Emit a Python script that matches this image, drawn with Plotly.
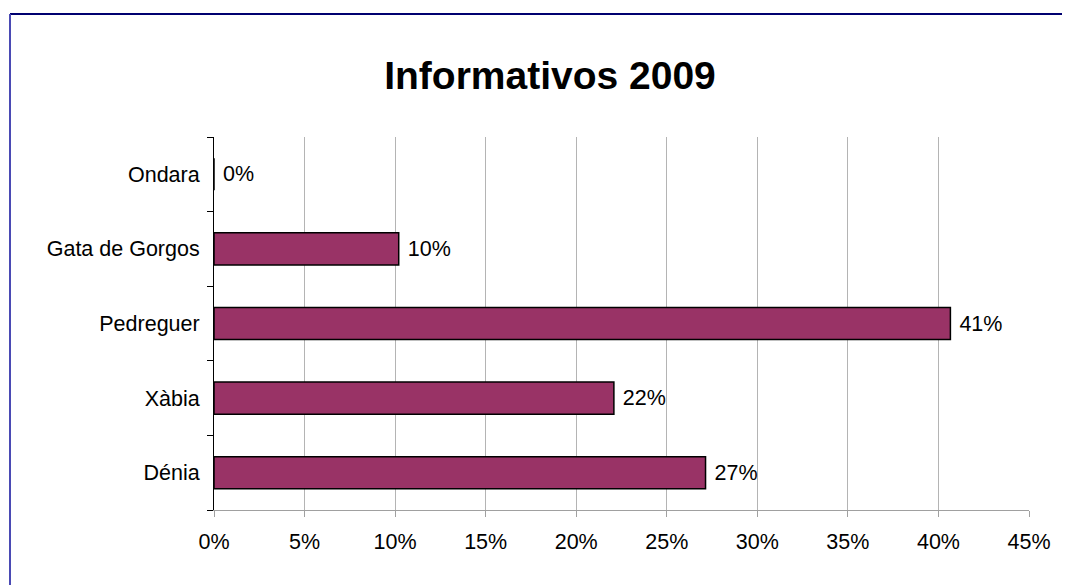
import plotly.graph_objects as go

# categories listed bottom to top
towns = ["Dénia", "Xàbia", "Pedreguer", "Gata de Gorgos", "Ondara"]
shares = [0.2714, 0.2208, 0.4066, 0.102, 0.0]
x_ticks = [0, 0.05, 0.10, 0.15, 0.20, 0.25, 0.30, 0.35, 0.40, 0.45]
x_tick_text = ["0%", "5%", "10%", "15%", "20%", "25%", "30%", "35%", "40%", "45%"]

W, H = 1070, 585
OFF = 8  # page body margin
L, T = 214 - OFF, 137 - OFF
R = W - (1029 - OFF)
B = H - (510 - OFF)
pw, ph = W - L - R, H - T - B


def px(x):
    return (x - OFF - L) / pw


def py(y):
    return (H - B - (y - OFF)) / ph


font = "Liberation Sans, Arial, sans-serif"
fs = 21.5

fig = go.Figure()

fig.add_trace(go.Bar(
    x=shares, y=towns,
    orientation="h",
    marker=dict(color="#993366", line=dict(color="black", width=1.5)),
    texttemplate=" %{x:.0%}",
    textposition="outside",
    textfont=dict(size=fs, color="black", family=font),
    cliponaxis=False,
    width=0.43,
))

# page frame lines
fig.add_shape(type="line", xref="paper", yref="paper",
              x0=px(10), x1=px(1085), y0=py(14), y1=py(14),
              line=dict(color="#000070", width=2))
fig.add_shape(type="line", xref="paper", yref="paper",
              x0=px(10), x1=px(10), y0=py(14), y1=py(600),
              line=dict(color="#4a4ab4", width=2))

fig.update_layout(
    width=W, height=H,
    margin=dict(l=L, r=R, t=T, b=B),
    paper_bgcolor="white", plot_bgcolor="white",
    showlegend=False,
    title=dict(text="<b>Informativos 2009</b>", x=(550 - OFF) / W, xanchor="center",
               y=1 - (75 - OFF) / H, yanchor="middle",
               font=dict(size=39, color="black", family=font)),
    font=dict(family=font, size=fs, color="black"),
    xaxis=dict(
        range=[0, 0.45],
        tickvals=x_ticks, ticktext=x_tick_text,
        showgrid=True, gridcolor="#b4b4b4", gridwidth=1,
        showline=True, linecolor="#a0a0a0", linewidth=1,
        ticks="outside", ticklen=6, tickcolor="#a0a0a0",
        ticklabelstandoff=6,
        zeroline=False,
        tickfont=dict(size=fs),
    ),
    yaxis=dict(
        categoryorder="array", categoryarray=towns,
        showline=True, linecolor="black", linewidth=1,
        ticks="outside", ticklen=6, tickcolor="black",
        tickson="boundaries",
        showgrid=False,
        ticklabelstandoff=9,
        tickfont=dict(size=fs),
    ),
)

fig.write_html("out.html")
